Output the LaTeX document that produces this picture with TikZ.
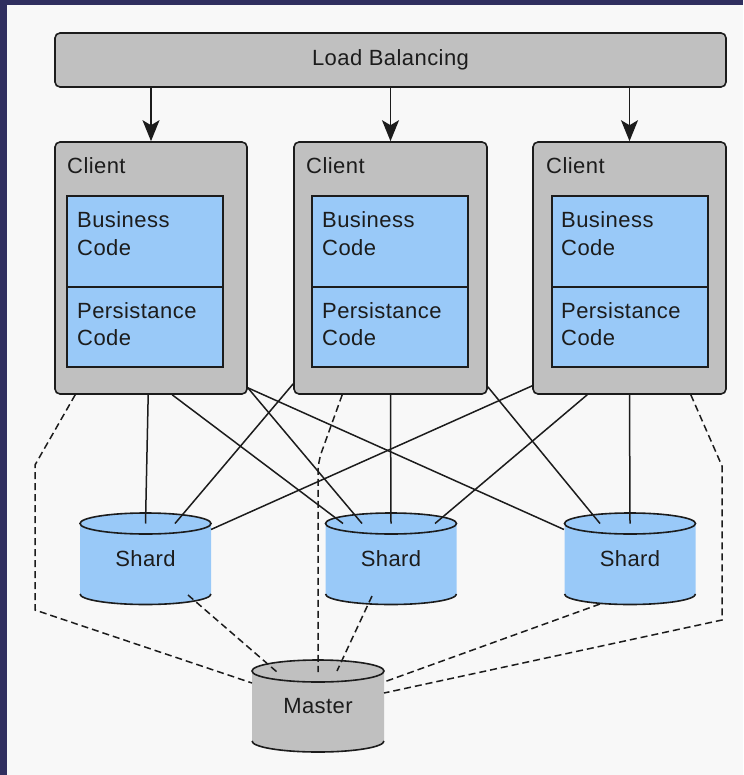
\documentclass[tikz,border=0pt]{standalone}
\usepackage{fontspec}
\setmainfont[LetterSpace=2]{Liberation Sans}
\usetikzlibrary{arrows.meta,calc}
\definecolor{navy}{HTML}{302F5F}
\definecolor{bgc}{HTML}{F8F8F8}
\definecolor{boxgray}{HTML}{C0C0C0}
\definecolor{lblue}{HTML}{99C9F8}
\definecolor{ink}{HTML}{1C1C1C}
\newcommand\mycyl[8]{% name, cx, yt, yb, rx, ry, fill, text
  \fill[#7] (#2-#5,-#3) -- (#2-#5,-#4)
    arc[start angle=180,end angle=360,x radius=#5,y radius=#6]
    -- (#2+#5,-#3)
    arc[start angle=0,end angle=180,x radius=#5,y radius=#6] -- cycle;
  \draw[edge] (#2,-#3) ellipse[x radius=#5,y radius=#6];
  \draw[edge] (#2-#5,-#4) arc[start angle=180,end angle=360,x radius=#5,y radius=#6];
  \coordinate (#1t) at (#2,-#3);
  \coordinate (#1b) at (#2,-#4);
  \node[txt,anchor=center] (#1) at ($(#1t)!0.5!(#1b)$) {#8};
}
\begin{document}
\begin{tikzpicture}[x=1pt,y=1pt,
  edge/.style={draw=ink,line width=1.6pt},
  txt/.style={inner sep=0pt,text=ink,font=\fontsize{22}{27}\selectfont},
  graybox/.style={edge,fill=boxgray,rounded corners=5pt,inner sep=0pt},
  bluebox/.style={edge,fill=lblue,inner sep=0pt},
  wire/.style={draw=ink,line width=1.5pt},
  dwire/.style={draw=ink,line width=1.5pt,dash pattern=on 7pt off 4pt},
  arr/.style={draw=ink,line width=1.6pt,-{Stealth[length=21pt,width=17pt,inset=5pt]}}]
\useasboundingbox (0,0) rectangle (743,-775);
\fill[bgc] (0,0) rectangle (743,-775);
\fill[navy] (0,0) rectangle (7,-775);
\fill[navy] (0,0) rectangle (743,-5);

% load balancing
\node[graybox,minimum width=671pt,minimum height=54pt] (lb) at (390.5,-60) {};
\node[txt] (lbt) at (lb.center) {Load Balancing};

% clients
\foreach \n/\cx/\cw/\lx/\ix/\tx in {1/151/192/68/145/78, 2/390.5/193/307/390/323, 3/629.5/193/547/630/562}{
  \node[graybox,minimum width=\cw pt,minimum height=252pt] (c\n) at (\cx,-268) {};
  \node[txt,anchor=base west] (cl\n) at (\lx-1,-174) {Client};
  \node[bluebox,minimum width=156pt,minimum height=91pt] (b\n) at (\ix,-241.5) {};
  \node[bluebox,minimum width=156pt,minimum height=80pt] (p\n) at (\ix,-327) {};
  \node[txt,anchor=base west] (bt\n) at (\tx-1,-228) {Business};
  \node[txt,anchor=base west] (bc\n) at (\tx-1,-255) {Code};
  \node[txt,anchor=base west] (pt\n) at (\tx-1,-318) {Persistance};
  \node[txt,anchor=base west] (pc\n) at (\tx-1,-345) {Code};
  \draw[arr] (lb.south -| c\n.north) -- (c\n.north);
}

% cylinders
\mycyl{s1}{145.5}{523.5}{594}{65.5}{10.5}{lblue}{Shard}
\mycyl{s2}{391}{523.5}{594}{65.5}{10.5}{lblue}{Shard}
\mycyl{s3}{630}{523.5}{594}{65.5}{10.5}{lblue}{Shard}
\mycyl{m}{318}{671}{741}{66}{11}{boxgray}{Master}

% solid connectors
\draw[wire] ($(c1.south west)+(94,0)$) -- (s1t);
\draw[wire] ($(c1.south west)+(118,0)$) -- ($(s2t)+(-48,0)$);
\draw[wire] ($(c1.south east)+(0,7)$) -- ($(s2t)+(-29,0)$);
\draw[wire] ($(c1.south east)+(0,7)$) -- ($(s3t)+(-66,-6)$);
\draw[wire] ($(c2.south west)+(0,11)$) -- ($(s1t)+(29.5,0)$);
\draw[wire] (c2.south) -- (s2t);
\draw[wire] ($(c2.south east)+(0,8)$) -- ($(s3t)+(-30,0)$);
\draw[wire] ($(c3.south west)+(0,9)$) -- ($(s1t)+(65.5,-6)$);
\draw[wire] ($(c3.south west)+(55,0)$) -- ($(s2t)+(44,0)$);
\draw[wire] (c3.south) -- (s3t);

% dashed connectors
\coordinate (l1) at (35,-465);
\coordinate (l2) at (35,-610);
\coordinate (k1) at (318,-462);
\coordinate (r1) at (722,-466);
\coordinate (r2) at (722,-620);
\draw[dwire] ($(c1.south west)+(21,0)$) -- (l1) -- (l2) -- ($(mt)+(-66,-12)$);
\draw[dwire] ($(s1b)+(42.5,-1)$) -- ($(mt)+(-41,-1)$);
\draw[dwire,rounded corners=10pt] ($(c2.south west)+(49,0)$) -- (k1) -- ($(mt)+(0,-1)$);
\draw[dwire] ($(s2b)+(-19,-2)$) -- ($(mt)+(19,0)$);
\draw[dwire] ($(s3b)+(-30,-10)$) -- ($(mt)+(66,-11)$);
\draw[dwire] ($(c3.south east)+(-36,0)$) -- (r1) -- (r2) -- ($(mt)+(66,-22)$);
\end{tikzpicture}
\end{document}
